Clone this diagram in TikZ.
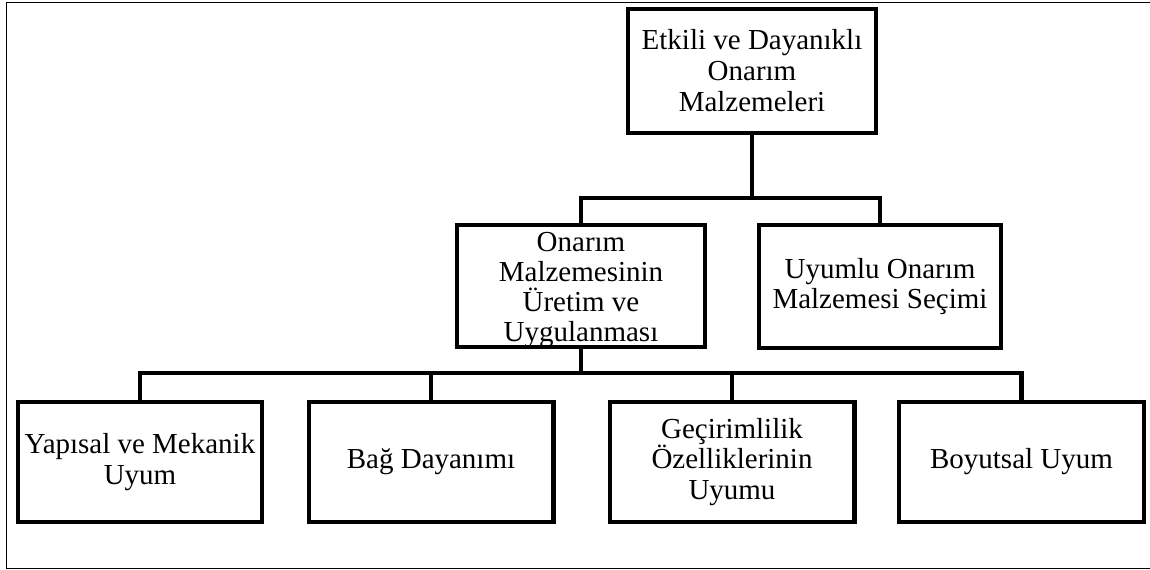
\documentclass[tikz,border=0pt]{standalone}
\usepackage{fontspec}
\setmainfont{Liberation Serif}
\usepackage{tikz}
\usetikzlibrary{positioning}

\begin{document}
\begin{tikzpicture}[
  x=0.02cm, y=-0.02cm,
  box/.style   = {draw, line width=2.3pt, inner sep=0pt, align=center,
                  minimum width=4.9cm, minimum height=2.4cm,
                  font=\fontsize{16.5}{17.6}\selectfont},
  btext/.style = {inner sep=0pt, align=center,
                  font=\fontsize{16.5}{17.2}\selectfont},
  conn/.style  = {line width=2.3pt},
  frame/.style = {line width=1.1pt},
]

\useasboundingbox (0,0) rectangle (1150,570);

%% outer frame
\draw[frame] (1150,2.5) -- (6.5,2.5) -- (6.5,568.5) -- (1150,568.5);

%% top level
\node[box, minimum width=4.96cm, minimum height=2.48cm]
  (top) at (752,71) {Etkili ve Dayanıklı\\Onarım\\Malzemeleri};

%% middle level
\node[box, minimum width=4.96cm, minimum height=2.44cm]
  (ml) at (581,286) {};
\node[btext] (mltext) at ([yshift=-0.08cm]ml.center)
  {Onarım\\Malzemesinin\\Üretim ve\\Uygulanması};
\node[box, minimum width=4.84cm, minimum height=2.46cm]
  (mr) at (880,286.5) {Uyumlu Onarım\\Malzemesi Seçimi};

%% bottom level
\node[box] (b1) at (140,462)    {Yapısal ve Mekanik\\Uyum};
\node[box] (b2) at (431,462)    {Bağ Dayanımı};
\node[box] (b3) at (732,462)    {Geçirimlilik\\Özelliklerinin\\Uyumu};
\node[box] (b4) at (1021.5,462) {Boyutsal Uyum};

%% connectors
\coordinate (bar1) at (752,198);
\coordinate (bar2) at (581,373);

\draw[conn] (top.south) -- (bar1);
\draw[conn] (ml.north) |- (bar1) -| (mr.north);

\draw[conn] (ml.south) -- (bar2);
\draw[conn] (b1.north) |- (bar2) -| (b4.north);
\draw[conn] (b2.north) -- (b2.north |- bar2);
\draw[conn] (b3.north) -- (b3.north |- bar2);

\end{tikzpicture}
\end{document}
